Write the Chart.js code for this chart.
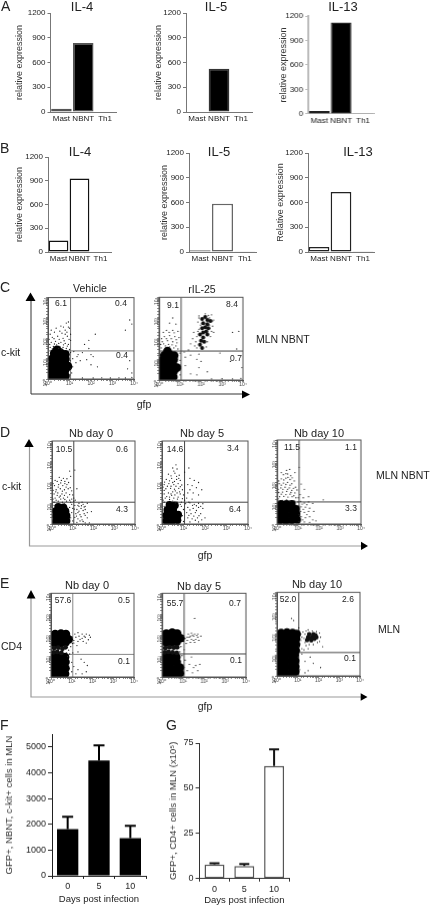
<!DOCTYPE html>
<html>
<head>
<meta charset="utf-8">
<title>Cytokine expression and gfp flow panels</title>
<script src="https://cdn.jsdelivr.net/npm/chart.js@4"></script>
<style>
html, body { margin: 0; padding: 0; background: #fff; }
#page { position: relative; width: 433px; height: 906px; overflow: hidden; font-family: "Liberation Sans", Arial, sans-serif; color: #222; filter: blur(0.3px); }
#page canvas { position: absolute; }
#page svg { position: absolute; left: 0; top: 0; }
.lbl { position: absolute; white-space: nowrap; line-height: 1; transform: translateY(-50%); }
</style>
</head>
<body>
<div id="page"></div>
<script>
// Dati
const cellTypes = ['Mast', 'NBNT', 'Th1'];
const exprTicks = [0, 300, 600, 900, 1200];
const a4Values = [40, 837, 5];
const a5Values = [5, 523, 5];
const a13Values = [36, 1119, 3];
const b4Values = [145, 930, 5];
const b5Values = [20, 586, 2];
const b13Values = [60, 727, 2];

const days = ['0', '5', '10'];
const fTicks = [0, 1000, 2000, 3000, 4000, 5000];
const fValues = [1813, 4482, 1464];
const fErrorTops = [2293, 5065, 1943];
const gTicks = [0, 25, 50, 75];
const gValues = [7.8, 6.9, 62.4];
const gErrorTops = [8.5, 8.1, 71.5];

const flowTickLabels = ['10⁰', '10¹', '10²', '10³', '10⁴'];

// Flow plots: [log10 gfp, log10 marker]
const c1Core = [[.2,.15],[.5,.12],[.8,.15],[.18,.42],[.48,.4],[.78,.42],[.92,.62],[.2,.7],[.5,.68],[.8,.72],[.22,1],[.52,1],[.8,.98],[.3,1.25],[.58,1.28],[.8,1.2],[.42,1.42]];
const c1Dots = [[.1,1.55],[.25,1.6],[.4,1.68],[.55,1.6],[.7,1.55],[.85,1.5],[1,1.45],[.15,1.8],[.35,1.85],[.6,1.8],[.8,1.75],[.95,1.7],[1.05,1.9],[.2,2.05],[.45,2.1],[.7,2],[.9,2.1],[1.05,2.2],[.3,2.3],[.55,2.35],[.8,2.4],[1,2.5],[.85,2.75],[.95,2.8],[.6,2.6],[.1,2.2],[1.05,1.3],[1.03,.9],[1.05,.5],[1.02,.2],[1.2,1.35],[1.4,1.2],[1.6,1.3],[1.9,1.5],[2,1.2],[1.7,1.7],[1.35,1.1],[1.5,.9],[2,.7],[2.3,.6],[3.7,.5],[3.9,.3],[3.8,.9],[3.9,2.7],[3.8,2.9],[3.6,2.4],[2.2,2.2],[1.3,.8],[1.15,.6],[1.15,1],[1.1,.3],[2.5,.06],[2.9,.05],[3.3,.06],[3.6,.05],[3.9,.08],[1.6,.05],[2.1,.05],[1.9,1.9],[2.1,1.1],[1.8,.95],
    [.08,1.7],[.3,1.72],[.5,1.75],[.72,1.68],[.9,1.62],[.05,1.95],[.28,1.98],[.52,1.95],[.75,1.88],[.98,1.95],[.15,2.4],[.38,2.5],[.65,2.25],[.88,2.3],[.95,2.55],[.72,2.55],[.8,2.2],[.5,1.5],[.65,1.45],[.2,1.48]];
const c2Core = [[.15,.15],[.42,.12],[.68,.15],[.15,.4],[.42,.4],[.7,.42],[.12,.68],[.4,.68],[.68,.7],[.85,.6],[.15,.95],[.42,.95],[.7,.98],[.25,1.2],[.52,1.22],[.72,1.18],[.4,1.4]];
const c2Mid = [[2.2,3.05],[2.05,2.95],[2.3,2.9],[2.45,2.85],[2.1,2.75],[2.3,2.7],[2.2,2.55],[2.35,2.5],[2.05,2.5],[2.25,2.35],[2.1,2.3],[2.3,2.2],[1.95,2.2],[2.1,2.05],[2,1.9],[2.15,1.85],[1.95,1.7],[2.05,1.55]];
const c2Dots = [[1.9,3.1],[2.5,3.15],[2.6,2.9],[1.85,2.8],[2.55,2.6],[1.9,2.45],[2.5,2.35],[1.8,2.1],[2.45,2.1],[1.75,1.85],[2.3,1.85],[1.8,1.55],[2.25,1.6],[2.4,3],[2.2,3.2],[1.6,2],[1.5,1.75],[.1,1.55],[.3,1.65],[.5,1.6],[.7,1.55],[.9,1.5],[.15,1.85],[.4,1.9],[.65,1.85],[.85,1.8],[.25,2.1],[.5,2.15],[.75,2.1],[.95,2.05],[.35,2.4],[.65,2.4],[.9,2.35],[.5,2.75],[.8,2.7],[.65,3],[1,1.3],[1,.95],[1.03,.6],[1,.25],[1.2,1.35],[1.4,1.45],[1.25,1.1],[1.5,1.2],[1.9,1.25],[1.8,1],[2,.9],[1.9,.6],[1.25,.7],[1.5,.3],[1.8,.25],[2.3,.4],[3.8,2.35],[3.5,2.3],[3.7,1.5],[2.5,.05],[3,.06],[3.5,.05],[3.9,.08],[3.95,.6],[2.9,1.3],[3.4,.9],
    [.08,1.72],[.22,1.75],[.45,1.72],[.62,1.7],[.8,1.65],[.12,2],[.35,2],[.58,2],[.82,1.95],[.2,2.3],[.48,2.3],[.72,2.28],[1.65,2.3],[1.7,1.65],[1.85,2.35],[2.6,2.3],[2.55,2.85],[1.9,3],[2.35,3.12],[2.4,2.65],[1.98,2.65]];
const d1Core = [[.2,.12],[.45,.1],[.7,.15],[.2,.38],[.45,.35],[.7,.4],[.18,.62],[.42,.6],[.65,.62],[.3,.82],[.55,.8]];
const d1Dots = [[.1,1.05],[.3,1.1],[.5,1.05],[.7,1.1],[.9,1.05],[1.05,1.1],[.15,1.25],[.35,1.3],[.55,1.25],[.75,1.3],[.95,1.2],[.1,1.45],[.28,1.5],[.48,1.45],[.68,1.5],[.85,1.42],[1,1.4],[.2,1.65],[.4,1.7],[.6,1.65],[.78,1.7],[.95,1.6],[.12,1.85],[.32,1.9],[.52,1.85],[.72,1.9],[.25,2.05],[.45,2.1],[.62,2.05],[.8,2],[.35,2.25],[.9,2.3],[1.1,2.6],[.85,2.55],[1.2,1.7],[1.1,.9],[1.3,1],[1.5,.95],[1.7,1],[1.2,.7],[1.4,.75],[1.6,.7],[1.15,.5],[1.35,.45],[1.55,.5],[1.25,.25],[1.45,.2],[1.7,.3],[1,.15],[1.2,.08],[1.6,.05],[1.8,.05],[1.9,.6],[.9,.3],[.95,.55],[.85,.8],[1,.75],[.1,.9],[.6,.97],[1.05,1.25],[1.3,.85],[1.45,1.05],[1.6,.85],[1.25,.55],[1.5,.65],[1.35,.15],[1.1,.32],[.95,.95],[.2,1.15],[.42,1.2],[.6,1.38],[.18,1.55],[.4,1.35],
    [.05,1.2],[.25,1.38],[.05,1.62],[.5,1.58],[.85,1.15],[.62,1.18],[.3,1.78],[.68,1.78],[.88,1.75],[.05,1.95],[.42,1.98],[.62,1.95],[.15,2.1],[.55,2.2],[.72,2.18],[1.12,1.15],[1.25,.9],[1.42,.88],[1.55,.82],[1.18,.38],[1.4,.35],[1.6,.42],[1.5,.12],[1.3,.62],[1.08,.72],[1.7,.55]];
const d2Core = [[.2,.15],[.45,.12],[.72,.18],[.2,.42],[.48,.4],[.75,.45],[.25,.68],[.52,.68],[.35,.92],[.6,.9]];
const d2Dots = [[.1,1.05],[.3,1.08],[.5,1.1],[.7,1.05],[.9,1.05],[1.05,1.15],[.15,1.25],[.35,1.3],[.55,1.25],[.75,1.3],[.95,1.22],[.1,1.45],[.3,1.5],[.5,1.55],[.7,1.5],[.85,1.45],[1,1.4],[.18,1.7],[.4,1.72],[.58,1.68],[.78,1.72],[.95,1.65],[.1,1.9],[.32,1.95],[.55,1.9],[.75,1.95],[.92,1.88],[.2,2.15],[.45,2.2],[.68,2.15],[.85,2.1],[.3,2.4],[.6,2.45],[.8,2.35],[.5,2.7],[.7,2.65],[.65,2.85],[1.05,2.5],[1.25,2.7],[1.3,2.2],[1.5,2.1],[1.7,2],[1.2,1.9],[1.4,1.85],[1.6,1.75],[1.85,1.65],[1.2,1.5],[1.45,1.5],[1.7,1.4],[1.15,1.25],[1.4,1.2],[1.1,.98],[1.3,1.02],[1.5,.95],[1.7,1],[1.9,.98],[1.2,.8],[1.45,.75],[1.7,.8],[1.9,.75],[1.15,.55],[1.35,.5],[1.55,.55],[1.8,.5],[1.2,.3],[1.4,.25],[1.65,.3],[1.85,.2],[1,.12],[1.3,.1],[1.7,.1],[2,.3],[.95,.4],[1,.7],[.9,.85],[.1,.85],[.35,1.18],[.6,1.4],[.45,1.38],[.62,1.02],[.1,1.62],[.85,.95],[.5,2.0],[.25,1.82],[.72,1.2],[1.3,1.65],
    [.05,1.15],[.22,1.32],[.42,1.45],[.62,1.6],[.82,1.55],[.05,1.78],[.42,1.82],[.65,1.82],[.85,1.8],[.12,2.02],[.35,2.08],[.58,2.05],[.78,2.2],[.42,2.32],[.68,2.3],[.55,2.55],[1.25,1.05],[1.42,.9],[1.6,.88],[1.8,.85],[1.3,.68],[1.6,.65],[1.25,.42],[1.48,.38],[1.72,.4],[1.55,.18]];
const d3Core = [[.15,.18],[.42,.15],[.7,.18],[.95,.2],[.15,.45],[.42,.42],[.7,.45],[.92,.48],[.15,.72],[.42,.7],[.7,.72],[.9,.72],[.18,.95],[.45,.95],[.7,.95]];
const d3Dots = [[.08,1.08],[.25,1.12],[.45,1.15],[.62,1.08],[.82,1.1],[1,1.05],[.12,1.3],[.32,1.32],[.52,1.28],[.72,1.3],[.9,1.25],[.08,1.5],[.26,1.52],[.46,1.55],[.66,1.5],[.85,1.48],[.18,1.72],[.38,1.75],[.58,1.72],[.78,1.7],[.95,1.62],[.1,1.92],[.3,1.95],[.5,1.98],[.7,1.92],[.2,2.15],[.42,2.18],[.62,2.12],[.82,2.05],[.3,2.35],[.5,2.38],[.65,2.3],[.45,2.55],[.2,2.45],[.6,2.6],[.85,2.45],[1.05,2.7],[1.15,1.9],[1.3,1.65],[1.1,1.4],[1.25,1.25],[1.5,1.3],[1.12,1.08],[1.3,1],[1.5,1.05],[1.7,.98],[1.15,.82],[1.35,.8],[1.55,.75],[1.12,.6],[1.3,.55],[1.5,.6],[1.75,.6],[1.15,.35],[1.35,.3],[1.55,.35],[1.7,.2],[1.05,.12],[1.3,.1],[1.55,.08],[1.85,.15],[1.05,.85],[2.2,1.15],[1.05,.45],
    [.05,1.2],[.2,1.42],[.42,1.4],[.62,1.42],[.8,1.35],[.05,1.65],[.28,1.65],[.5,1.65],[.7,1.6],[.88,1.75],[.2,1.85],[.42,1.88],[.62,1.85],[.08,2.05],[.32,2.1],[.52,2.22],[.72,2.2],[.42,2.4],[1.2,.95],[1.42,.92],[1.25,.7],[1.42,.45],[1.22,.2],[1.02,1.25]];
const e1Core = [[.15,.15],[.4,.12],[.68,.15],[.15,.42],[.42,.4],[.7,.42],[.15,.7],[.42,.68],[.7,.72],[.15,.95],[.42,.98],[.68,.95],[.2,1.6],[.45,1.62],[.7,1.65],[.15,1.85],[.42,1.9],[.7,1.88],[.85,1.8],[.2,2.05],[.48,2.08],[.72,2.05]];
const e1Mid = [[.12,1.18],[.3,1.2],[.5,1.15],[.15,1.38],[.35,1.4],[.55,1.35],[.7,1.42]];
const e1Dots = [[.75,1.15],[.85,1.28],[.95,1.45],[.9,1.1],[.8,.98],[1.03,1.6],[1.1,1.75],[1.2,1.9],[1.35,1.95],[1.5,1.85],[1.65,1.9],[1.8,1.78],[1.9,1.9],[1.15,2.05],[1.3,2.12],[1.5,2.05],[1.7,2.05],[1.85,2],[1.1,1.62],[1.3,1.7],[1.55,1.7],[1.7,1.62],[1.4,1.8],[1.6,1.95],[1.02,1.9],[1.25,1.5],[1.45,.85],[1.6,.7],[1.1,.5],[1.3,.35],[1.7,.25],[1.75,.55],[1.2,.15],[1,.25],[1,.7],[1.5,.15],[1.05,1.15],[1.3,1.2]];
const e2Core = [[.15,.15],[.42,.12],[.7,.15],[.85,.18],[.15,.42],[.42,.4],[.7,.42],[.85,.45],[.15,.7],[.42,.68],[.7,.72],[.15,.95],[.42,.98],[.68,.95],[.2,1.65],[.45,1.65],[.7,1.68],[.15,1.88],[.42,1.92],[.72,1.9],[.88,1.85],[.2,2.08],[.48,2.12],[.72,2.08]];
const e2Mid = [[.12,1.18],[.3,1.2],[.5,1.18],[.7,1.15],[.15,1.38],[.35,1.42],[.55,1.4],[.72,1.42]];
const e2Dots = [[.85,1.2],[.9,1.45],[.95,1.02],[1.03,1.7],[1.1,1.85],[1.2,1.75],[1.3,1.9],[1.4,1.8],[1.5,1.95],[1.6,1.8],[1.7,1.9],[1.75,1.75],[1.25,2.05],[1.4,2.1],[1.55,2.05],[1.7,2.05],[1.85,1.95],[1.15,1.6],[1.35,1.65],[1.55,1.65],[1.35,1.95],[1.5,1.75],[1.2,1.9],[1.65,1.98],[1.45,2],[1.02,1.95],[1.05,1.3],[1.1,.8],[1.3,.6],[1.5,.45],[1.7,.3],[1.2,.3],[1.45,.2],[1.6,.55],[1.05,.45],[1.55,2.8],[1.4,.95],[1.8,.6]];
const e3Core = [[.15,.15],[.42,.12],[.7,.15],[.88,.2],[.15,.42],[.42,.42],[.7,.42],[.88,.45],[.15,.7],[.42,.7],[.7,.7],[.88,.72],[.15,.98],[.42,.98],[.7,.98],[.85,1],[.15,1.25],[.42,1.25],[.7,1.25],[.9,1.22],[.15,1.52],[.42,1.52],[.7,1.52],[.92,1.5],[.15,1.8],[.42,1.8],[.7,1.8],[.92,1.78],[.2,2.05],[.48,2.08],[.75,2.05],[.95,2]];
const e3Mid = [[1.45,1.72],[1.65,1.7],[1.8,1.78],[1.5,1.85],[1.7,1.88],[1.9,1.85],[1.55,2],[1.75,2],[1.6,1.8],[1.85,1.95]];
const e3Dots = [[1.1,1.2],[1.05,1.4],[1.1,1.55],[1.15,1.7],[1.2,1.85],[1.15,2],[1.25,2.1],[1.35,1.6],[1.3,1.8],[1.35,2],[1.4,2.15],[1.5,2.2],[1.7,2.15],[1.9,2.12],[2.05,2.05],[2.1,1.85],[2.05,1.65],[1.95,1.6],[1.75,1.5],[1.55,1.5],[1.4,1.45],[1.2,1.3],[1.3,1.25],[1.5,1.3],[1.02,.9],[1.05,.6],[1.1,.3],[1.2,1.05],[1.35,.7],[1.6,.9],[1.75,.6],[1.5,.25],[2.1,.4],[2.2,1.4],[.8,2.65],[.7,2.75],[1.35,.15],[1.05,2.3]];

const gates = {
    c1: [1.05, 1.38], c2: [1.05, 1.4],
    d1: [1.05, 1.05], d2: [1.05, 1.05], d3: [1.05, 1.05],
    e1: [1.05, 1.08], e2: [1.05, 1.1], e3: [1.05, 1.12]
};

// Testi fuori dai grafici: testo, x, y (centro), corpo, allineamento
const labels = [
    ['A', 1, 6, 14], ['B', 0, 148, 14], ['C', 0, 287, 14], ['D', 0, 432, 14], ['E', 0, 583, 14], ['F', 0, 725, 14], ['G', 166, 725, 14],
    ['IL-4', 82, 6, 13, 'c'], ['IL-5', 216, 6, 13, 'c'], ['IL-13', 343, 6, 13, 'c'],
    ['IL-4', 80, 151, 13, 'c'], ['IL-5', 219, 151, 13, 'c'], ['IL-13', 358, 151, 13, 'c'],
    ['Vehicle', 90, 288, 10.5, 'c'], ['rIL-25', 202, 289, 10.5, 'c'],
    ['MLN NBNT', 256, 339, 10.5], ['c-kit', 1, 352, 10.5], ['gfp', 144, 404, 10.5, 'c'],
    ['6.1', 61, 303, 8.5, 'c'], ['0.4', 121, 303, 8.5, 'c'], ['0.4', 122, 355, 8.5, 'c'],
    ['9.1', 173, 305, 8.5, 'c'], ['8.4', 232, 304, 8.5, 'c'], ['0.7', 236, 358, 8.5, 'c'],
    ['Nb day 0', 91, 433, 11, 'c'], ['Nb day 5', 202, 433, 11, 'c'], ['Nb day 10', 319, 433, 11, 'c'],
    ['MLN NBNT', 376, 475, 10.5], ['c-kit', 2, 486, 10.5], ['gfp', 205, 555, 10.5, 'c'],
    ['10.5', 64, 449, 8.5, 'c'], ['0.6', 122, 449, 8.5, 'c'], ['4.3', 122, 509, 8.5, 'c'],
    ['14.6', 175, 449, 8.5, 'c'], ['3.4', 233, 448, 8.5, 'c'], ['6.4', 235, 509, 8.5, 'c'],
    ['11.5', 292, 447, 8.5, 'c'], ['1.1', 351, 447, 8.5, 'c'], ['3.3', 351, 508, 8.5, 'c'],
    ['Nb day 0', 87, 585, 11, 'c'], ['Nb day 5', 199, 586, 11, 'c'], ['Nb day 10', 317, 584, 11, 'c'],
    ['MLN', 378, 629, 10.5], ['CD4', 1, 646, 10.5], ['gfp', 205, 706, 10.5, 'c'],
    ['57.6', 63, 600, 8.5, 'c'], ['0.5', 124, 600, 8.5, 'c'], ['0.1', 124, 661, 8.5, 'c'],
    ['55.7', 175, 603, 8.5, 'c'], ['0.7', 235, 603, 8.5, 'c'], ['0.1', 236, 660, 8.5, 'c'],
    ['52.0', 288, 599, 8.5, 'c'], ['2.6', 348, 599, 8.5, 'c'], ['0.1', 350, 658, 8.5, 'c']
];

const page = document.getElementById('page');
const FONT = '"Liberation Sans", Arial, sans-serif';
Chart.defaults.font.family = FONT;
Chart.defaults.color = '#222';
Chart.defaults.animation = false;

labels.forEach(l => {
    const d = document.createElement('div');
    d.className = 'lbl';
    d.textContent = l[0];
    d.style.left = l[1] + 'px';
    d.style.top = l[2] + 'px';
    d.style.fontSize = l[3] + 'px';
    if (l[4] === 'c') d.style.transform = 'translate(-50%,-50%)';
    page.appendChild(d);
});

// frecce degli assi
page.insertAdjacentHTML('beforeend', `<svg width="433" height="906">
<g fill="none" stroke="#333" stroke-width="1"><path d="M31 298V394H245"/></g>
<g fill="none" stroke="#999" stroke-width="1.2"><path d="M29.5 444V546H362"/><path d="M31 596V697H362"/></g>
<g fill="#000"><path d="M30.5 292.5L35.5 301H25.5Z M250 394.5L242 390.5V398.5Z"/>
<path d="M29 439L33.7 447H24.3Z M368 546L361 541.7V550Z"/>
<path d="M31 590L35.5 598.5H26.7Z M367.5 697L360.7 693.2V700.8Z"/></g></svg>`);

function addCanvas(left, top, width, height) {
    const c = document.createElement('canvas');
    c.width = width;
    c.height = height;
    c.style.left = left + 'px';
    c.style.top = top + 'px';
    c.style.width = width + 'px';
    c.style.height = height + 'px';
    page.appendChild(c);
    return c;
}

const errorBarsPlugin = {
    id: 'errorBars',
    afterDatasetsDraw(chart, args, opts) {
        if (!opts.tops) return;
        const ctx = chart.ctx;
        const bars = chart.getDatasetMeta(0).data;
        const y = chart.scales.y;
        ctx.save();
        ctx.strokeStyle = opts.color;
        ctx.lineWidth = 2;
        opts.tops.forEach((top, i) => {
            const yTop = y.getPixelForValue(top);
            ctx.beginPath();
            ctx.moveTo(bars[i].x, bars[i].y);
            ctx.lineTo(bars[i].x, yTop);
            ctx.moveTo(bars[i].x - opts.cap, yTop);
            ctx.lineTo(bars[i].x + opts.cap, yTop);
            ctx.stroke();
        });
        ctx.restore();
    }
};

function barChart(cfg) {
    const left = cfg.titleX - 6;
    const top = cfg.t - 8;
    const width = cfg.r - left + 6;
    const height = cfg.canvasBottom - top;
    const bottomH = cfg.canvasBottom - cfg.b;
    const tickLen = cfg.tickLen === undefined ? 3 : cfg.tickLen;
    return new Chart(addCanvas(left, top, width, height), {
        type: 'bar',
        data: {
            labels: cfg.labels,
            datasets: [{
                data: cfg.values,
                backgroundColor: cfg.fill,
                borderColor: cfg.stroke,
                borderWidth: cfg.strokeW,
                borderSkipped: false,
                barPercentage: cfg.barPct,
                categoryPercentage: 1
            }]
        },
        options: {
            responsive: false,
            devicePixelRatio: 1,
            layout: { padding: { top: 8, right: 6 } },
            plugins: {
                legend: { display: false },
                tooltip: { enabled: false },
                errorBars: { tops: cfg.errorTops, color: cfg.errorColor, cap: cfg.cap }
            },
            scales: {
                x: {
                    afterFit: s => { s.height = bottomH; },
                    border: { color: cfg.axisColor, width: cfg.axisW },
                    grid: { drawOnChartArea: false, drawTicks: cfg.xTicks, tickLength: 3, tickColor: cfg.axisColor },
                    ticks: { font: { size: cfg.catSize }, padding: cfg.catPad, color: '#222', maxRotation: 0, autoSkip: false },
                    title: cfg.xTitle ? { display: true, text: cfg.xTitle, font: { size: 9.5 }, padding: 0, color: '#222' } : { display: false }
                },
                y: {
                    min: 0,
                    max: cfg.max,
                    afterFit: s => { s.width = cfg.l - left; },
                    afterBuildTicks: s => { s.ticks = cfg.ticks.map(value => ({ value })); },
                    border: { color: cfg.axisColor, width: cfg.yAxisW || cfg.axisW },
                    grid: { drawOnChartArea: false, tickLength: tickLen, tickColor: cfg.axisColor },
                    ticks: { font: { size: cfg.tickSize }, padding: 2, color: '#222', callback: v => String(v) },
                    title: { display: true, text: cfg.yTitle, font: { size: cfg.yTitleSize || 9 }, padding: 0, color: '#333' }
                }
            }
        },
        plugins: [errorBarsPlugin]
    });
}

const panelsAB = [
    { l: 50.5, r: 116, t: 12.5, b: 111.7, titleX: 20, values: a4Values, fill: '#000', stroke: '#555', yTitle: 'relative expression' },
    { l: 186, r: 252, t: 12.5, b: 111.7, titleX: 159, values: a5Values, fill: '#000', stroke: '#333', yTitle: 'relative expression' },
    { l: 308, r: 373.5, t: 15.7, b: 114.3, titleX: 284, values: a13Values, fill: '#000', stroke: '#222', yTitle: 'relative expression', axisColor: '#bbb', yAxisW: 2 },
    { l: 48, r: 111, t: 156.7, b: 252.3, titleX: 20, values: b4Values, fill: '#fff', stroke: '#111', yTitle: 'relative expression' },
    { l: 189, r: 256, t: 153.3, b: 252.3, titleX: 165, values: b5Values, fill: '#fff', stroke: '#666', yTitle: 'relative expression' },
    { l: 308, r: 374, t: 153.3, b: 252.3, titleX: 281, values: b13Values, fill: '#fff', stroke: '#222', yTitle: 'Relative expression' }
];
panelsAB.forEach(p => barChart(Object.assign({
    labels: cellTypes, ticks: exprTicks, max: 1200, canvasBottom: p.b + 14,
    strokeW: 1.5, barPct: 0.94, axisColor: '#777', axisW: 1, xTicks: false,
    catSize: 8, catPad: 2, tickSize: 8
}, p)));

barChart({
    l: 52, r: 146, t: 734.3, b: 876, titleX: 10, canvasBottom: 905, labels: days, values: fValues,
    ticks: fTicks, max: 5505, fill: '#000', stroke: '#000', strokeW: 0, barPct: 0.68,
    axisColor: '#222', axisW: 1, xTicks: true, catSize: 9, catPad: 2, tickSize: 9, tickLen: 4,
    xTitle: 'Days post infection', yTitle: 'GFP+, NBNT, c-kit+ cells in MLN', yTitleSize: 9.5,
    errorTops: fErrorTops, errorColor: '#000', cap: 5.5
});
barChart({
    l: 199.3, r: 289.3, t: 743.3, b: 878.7, titleX: 173.7, canvasBottom: 906, labels: days, values: gValues,
    ticks: gTicks, max: 75, fill: '#fff', stroke: '#555', strokeW: 1.5, barPct: 0.67,
    axisColor: '#333', axisW: 1, xTicks: true, catSize: 9, catPad: 2, tickSize: 9, tickLen: 4,
    xTitle: 'Days post infection', yTitle: 'GFP+, CD4+ cells in MLN (x10⁵)', yTitleSize: 9.5,
    errorTops: gErrorTops, errorColor: '#111', cap: 5
});

const framePlugin = {
    id: 'frame',
    afterDatasetsDraw(chart, args, opts) {
        const a = chart.chartArea;
        const ctx = chart.ctx;
        ctx.save();
        ctx.strokeStyle = opts.color;
        ctx.lineWidth = 1;
        ctx.strokeRect(a.left, a.top, a.width, a.height);
        ctx.restore();
    }
};

const toPoint = p => ({ x: Math.pow(10, p[0]), y: Math.pow(10, p[1]) });
const powerLabel = v => {
    const e = Math.log10(v);
    return Number.isInteger(e) ? flowTickLabels[e] : '';
};

function flowChart(f) {
    const left = f.l - 12;
    const top = f.t - 4;
    const width = f.r - left + 5;
    const height = f.b + 13 - top;
    const gx = Math.pow(10, f.gate[0]);
    const gy = Math.pow(10, f.gate[1]);
    const cloud = (points, radius, color) => ({
        data: points.map(toPoint), pointRadius: radius, pointBorderWidth: 0,
        pointBackgroundColor: color, showLine: false, clip: 0
    });
    const gateLine = (a, b) => ({
        data: [a, b], showLine: true, pointRadius: 0, borderColor: f.gateColor || '#444', borderWidth: 1
    });
    const datasets = [cloud(f.dots, 0.65, '#222')];
    if (f.mid) datasets.push(cloud(f.mid, f.midR || 2, '#111'));
    datasets.push(cloud(f.core, f.coreR || 4.6, '#000'));
    datasets.push(gateLine({ x: gx, y: 1 }, { x: gx, y: 10000 }));
    datasets.push(gateLine({ x: 1, y: gy }, { x: 10000, y: gy }));
    const axis = {
        type: 'logarithmic', min: 1, max: 10000,
        border: { color: '#555' },
        grid: { drawOnChartArea: false, tickLength: 2, tickColor: '#555', tickWidth: 0.7 }
    };
    return new Chart(addCanvas(left, top, width, height), {
        type: 'scatter',
        data: { datasets },
        options: {
            responsive: false,
            devicePixelRatio: 1,
            layout: { padding: { top: 4, right: 5 } },
            plugins: { legend: { display: false }, tooltip: { enabled: false }, frame: { color: '#555' } },
            scales: {
                x: Object.assign({}, axis, {
                    afterFit: s => { s.height = 13; },
                    ticks: { font: { size: 5 }, padding: 0, autoSkip: false, maxRotation: 0, color: '#444', callback: powerLabel }
                }),
                y: Object.assign({}, axis, {
                    afterFit: s => { s.width = 12; },
                    ticks: { font: { size: 5 }, padding: 0, autoSkip: false, minRotation: 90, maxRotation: 90, color: '#444', callback: powerLabel }
                })
            }
        },
        plugins: [framePlugin]
    });
}

[
    { l: 48, r: 134, t: 296.7, b: 379.3, core: c1Core, dots: c1Dots, gate: gates.c1, gateColor: '#777' },
    { l: 159.3, r: 242.7, t: 296.7, b: 380, core: c2Core, mid: c2Mid, dots: c2Dots, gate: gates.c2, coreR: 4.3 },
    { l: 51.7, r: 135, t: 440.7, b: 524.3, core: d1Core, dots: d1Dots, gate: gates.d1, coreR: 3.9 },
    { l: 162.3, r: 248.3, t: 440.7, b: 524.3, core: d2Core, dots: d2Dots, gate: gates.d2, coreR: 3.9 },
    { l: 277.3, r: 360.7, t: 440, b: 524, core: d3Core, dots: d3Dots, gate: gates.d3, coreR: 4 },
    { l: 50.7, r: 134, t: 592.7, b: 677.3, core: e1Core, mid: e1Mid, dots: e1Dots, gate: gates.e1, gateColor: '#888', coreR: 4.3, midR: 2.4 },
    { l: 162.3, r: 246, t: 593.3, b: 677.3, core: e2Core, mid: e2Mid, dots: e2Dots, gate: gates.e2, coreR: 4.3, midR: 2.4 },
    { l: 277.3, r: 360.3, t: 592.3, b: 676, core: e3Core, mid: e3Mid, dots: e3Dots, gate: gates.e3, coreR: 4.3, midR: 2.2 }
].forEach(flowChart);
</script>
</body>
</html>
